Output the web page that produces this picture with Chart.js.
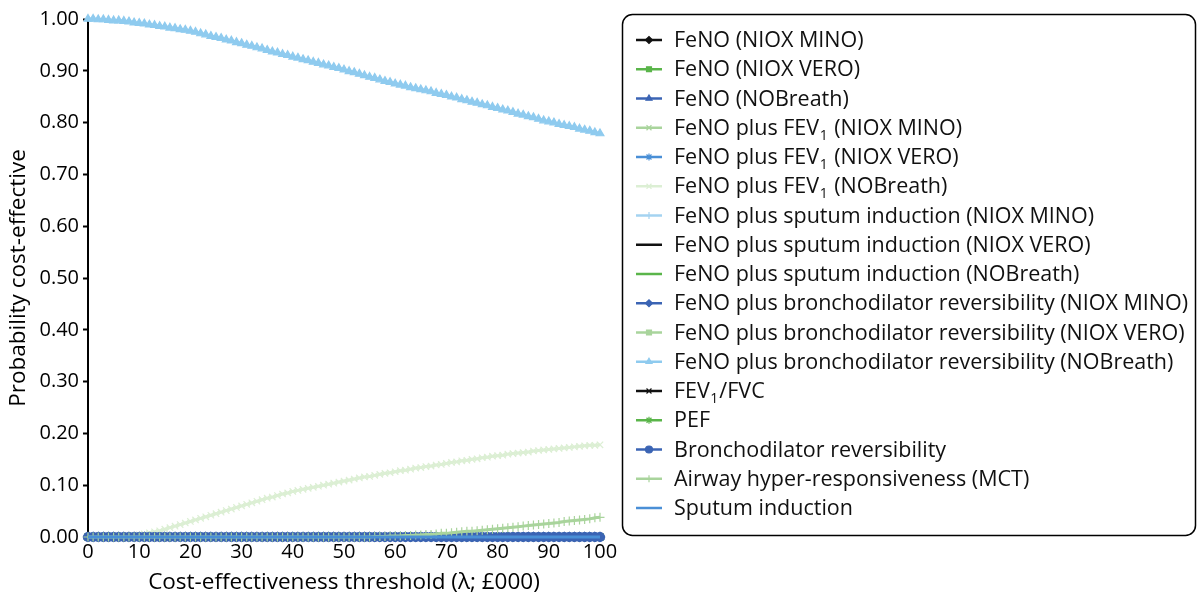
<!DOCTYPE html>
<html lang="en">
<head>
    <meta charset="UTF-8">
    <title>Probability cost-effective</title>
    <script src="https://cdn.jsdelivr.net/npm/chart.js"></script>
    <style>
        html, body { margin: 0; padding: 0; background: #fff; }
        #wrap { width: 1198px; height: 596px; }
    </style>
</head>
<body>
<div id="wrap"><canvas id="ceacChart" width="1198" height="596"></canvas></div>
<script>
// threshold, £000
const lambdas = [
    0, 1, 2, 3, 4, 5, 6, 7, 8, 9,
    10, 11, 12, 13, 14, 15, 16, 17, 18, 19,
    20, 21, 22, 23, 24, 25, 26, 27, 28, 29,
    30, 31, 32, 33, 34, 35, 36, 37, 38, 39,
    40, 41, 42, 43, 44, 45, 46, 47, 48, 49,
    50, 51, 52, 53, 54, 55, 56, 57, 58, 59,
    60, 61, 62, 63, 64, 65, 66, 67, 68, 69,
    70, 71, 72, 73, 74, 75, 76, 77, 78, 79,
    80, 81, 82, 83, 84, 85, 86, 87, 88, 89,
    90, 91, 92, 93, 94, 95, 96, 97, 98, 99,
    100
];

const xTicks = [0, 10, 20, 30, 40, 50, 60, 70, 80, 90, 100];
const yTicks = [0, 0.1, 0.2, 0.3, 0.4, 0.5, 0.6, 0.7, 0.8, 0.9, 1.0];

// strategies that never come out cost-effective
const zeroLine = [
    0, 0, 0, 0, 0, 0, 0, 0, 0, 0,
    0, 0, 0, 0, 0, 0, 0, 0, 0, 0,
    0, 0, 0, 0, 0, 0, 0, 0, 0, 0,
    0, 0, 0, 0, 0, 0, 0, 0, 0, 0,
    0, 0, 0, 0, 0, 0, 0, 0, 0, 0,
    0, 0, 0, 0, 0, 0, 0, 0, 0, 0,
    0, 0, 0, 0, 0, 0, 0, 0, 0, 0,
    0, 0, 0, 0, 0, 0, 0, 0, 0, 0,
    0, 0, 0, 0, 0, 0, 0, 0, 0, 0,
    0, 0, 0, 0, 0, 0, 0, 0, 0, 0,
    0
];

// FeNO plus bronchodilator reversibility (NOBreath)
const bdrNobreath = [
    1.000, 1.000, 0.999, 0.999, 0.998, 0.997, 0.997, 0.996, 0.995, 0.993,
    0.992, 0.991, 0.989, 0.988, 0.986, 0.985, 0.983, 0.982, 0.980, 0.979,
    0.977, 0.975, 0.972, 0.970, 0.967, 0.965, 0.963, 0.960, 0.958, 0.955,
    0.953, 0.950, 0.948, 0.945, 0.943, 0.940, 0.937, 0.935, 0.932, 0.930,
    0.927, 0.925, 0.922, 0.920, 0.917, 0.915, 0.912, 0.910, 0.907, 0.905,
    0.902, 0.899, 0.897, 0.894, 0.891, 0.888, 0.886, 0.883, 0.880, 0.878,
    0.875, 0.873, 0.871, 0.868, 0.866, 0.864, 0.862, 0.860, 0.857, 0.855,
    0.853, 0.850, 0.848, 0.845, 0.843, 0.840, 0.838, 0.835, 0.833, 0.830,
    0.828, 0.825, 0.823, 0.820, 0.817, 0.815, 0.812, 0.810, 0.807, 0.804,
    0.802, 0.800, 0.797, 0.795, 0.793, 0.791, 0.788, 0.786, 0.784, 0.781,
    0.779
];

// FeNO plus FEV1 (NOBreath)
const fev1Nobreath = [
    0.000, 0.000, 0.000, 0.000, 0.000, 0.000, 0.001, 0.001, 0.002, 0.003,
    0.004, 0.006, 0.008, 0.010, 0.012, 0.015, 0.018, 0.021, 0.024, 0.027,
    0.030, 0.033, 0.036, 0.039, 0.042, 0.045, 0.048, 0.051, 0.054, 0.057,
    0.060, 0.063, 0.066, 0.069, 0.072, 0.075, 0.077, 0.080, 0.083, 0.085,
    0.088, 0.090, 0.092, 0.094, 0.096, 0.098, 0.100, 0.102, 0.104, 0.106,
    0.108, 0.110, 0.112, 0.114, 0.116, 0.117, 0.119, 0.121, 0.123, 0.124,
    0.126, 0.128, 0.129, 0.131, 0.133, 0.134, 0.136, 0.137, 0.139, 0.140,
    0.142, 0.144, 0.145, 0.147, 0.148, 0.150, 0.151, 0.153, 0.154, 0.156,
    0.157, 0.158, 0.160, 0.161, 0.162, 0.163, 0.164, 0.166, 0.167, 0.168,
    0.169, 0.170, 0.171, 0.172, 0.173, 0.174, 0.175, 0.176, 0.177, 0.177,
    0.178
];

// Airway hyper-responsiveness (MCT)
const mct = [
    0.000, 0.000, 0.000, 0.000, 0.000, 0.000, 0.000, 0.000, 0.000, 0.000,
    0.000, 0.000, 0.000, 0.000, 0.000, 0.000, 0.000, 0.000, 0.000, 0.000,
    0.000, 0.000, 0.000, 0.000, 0.000, 0.000, 0.000, 0.000, 0.000, 0.000,
    0.000, 0.000, 0.000, 0.000, 0.000, 0.000, 0.000, 0.000, 0.000, 0.000,
    0.000, 0.000, 0.000, 0.000, 0.000, 0.000, 0.000, 0.000, 0.000, 0.000,
    0.000, 0.000, 0.000, 0.000, 0.000, 0.000, 0.001, 0.001, 0.001, 0.002,
    0.002, 0.002, 0.003, 0.003, 0.004, 0.004, 0.005, 0.005, 0.006, 0.007,
    0.007, 0.008, 0.009, 0.010, 0.011, 0.011, 0.012, 0.013, 0.014, 0.015,
    0.016, 0.017, 0.018, 0.019, 0.020, 0.021, 0.022, 0.023, 0.024, 0.025,
    0.026, 0.027, 0.028, 0.030, 0.031, 0.032, 0.033, 0.034, 0.035, 0.037,
    0.038
];

const seriesNames = [
    'FeNO (NIOX MINO)',
    'FeNO (NIOX VERO)',
    'FeNO (NOBreath)',
    'FeNO plus FEV_1 (NIOX MINO)',
    'FeNO plus FEV_1 (NIOX VERO)',
    'FeNO plus FEV_1 (NOBreath)',
    'FeNO plus sputum induction (NIOX MINO)',
    'FeNO plus sputum induction (NIOX VERO)',
    'FeNO plus sputum induction (NOBreath)',
    'FeNO plus bronchodilator reversibility (NIOX MINO)',
    'FeNO plus bronchodilator reversibility (NIOX VERO)',
    'FeNO plus bronchodilator reversibility (NOBreath)',
    'FEV_1/FVC',
    'PEF',
    'Bronchodilator reversibility',
    'Airway hyper-responsiveness (MCT)',
    'Sputum induction'
];

const seriesValues = [
    zeroLine, zeroLine, zeroLine,
    zeroLine, zeroLine, fev1Nobreath,
    zeroLine, zeroLine, zeroLine,
    zeroLine, zeroLine, bdrNobreath,
    zeroLine, zeroLine, zeroLine,
    mct, zeroLine
];

const seriesColors = [
    '#111111', '#5ab54a', '#3b64b4',
    '#a9d49c', '#4a8fd6', '#dcefd4',
    '#a4d3f1', '#111111', '#5ab54a',
    '#3b64b4', '#a9d49c', '#8fcbef',
    '#111111', '#5ab54a', '#3b64b4',
    '#a9d49c', '#4a8fd6'
];

const seriesMarkers = [
    'rectRot', 'rect', 'triangle',
    'crossRot', 'star', 'crossRot',
    'cross', false, false,
    'rectRot', 'rect', 'triangle',
    'crossRot', 'star', 'circle',
    'cross', false
];

const FONT = 'Open Sans';

function drawLabel(ctx, text, x, y) {
    const parts = text.split('_1');
    ctx.textBaseline = 'middle';
    ctx.textAlign = 'left';
    let cx = x;
    parts.forEach((p, i) => {
        ctx.font = '21.5px "' + FONT + '"';
        ctx.fillText(p, cx, y);
        cx += ctx.measureText(p).width;
        if (i < parts.length - 1) {
            ctx.font = '14px "' + FONT + '"';
            ctx.fillText('1', cx + 0.5, y + 7);
            cx += ctx.measureText('1').width + 1.5;
        }
    });
}

const boxLegend = {
    id: 'boxLegend',
    afterDraw(chart) {
        const ctx = chart.ctx;
        ctx.save();
        ctx.strokeStyle = '#000';
        ctx.lineWidth = 1.5;
        ctx.beginPath();
        ctx.roundRect(622.5, 14.5, 573, 521, 10);
        ctx.stroke();

        seriesNames.forEach((name, i) => {
            const y = 40 + i * 29.25;
            ctx.strokeStyle = seriesColors[i];
            ctx.fillStyle = seriesColors[i];
            ctx.lineWidth = 2.5;
            ctx.beginPath();
            ctx.moveTo(636, y);
            ctx.lineTo(662, y);
            ctx.stroke();
            if (seriesMarkers[i]) {
                ctx.lineWidth = 1.2;
                Chart.helpers.drawPoint(ctx, {
                    pointStyle: seriesMarkers[i], radius: 3.5, rotation: 0, borderWidth: 1.2
                }, 649, y);
            }
            ctx.fillStyle = '#111';
            drawLabel(ctx, name, 674, y + 1);
        });
        ctx.restore();
    }
};

const datasets = seriesNames.map((name, i) => ({
    label: name.replace('_1', '1'),
    data: lambdas.map((l, j) => ({ x: l, y: seriesValues[i][j] })),
    borderColor: seriesColors[i],
    backgroundColor: seriesColors[i],
    borderWidth: 3,
    pointStyle: seriesMarkers[i] || 'circle',
    pointRadius: seriesMarkers[i] ? 4.5 : 0,
    pointBorderWidth: 1.2,
    pointHoverRadius: 0,
    tension: 0,
    clip: false,
    order: -i
}));

const ctx = document.getElementById('ceacChart').getContext('2d');
const chart = new Chart(ctx, {
    type: 'line',
    data: { datasets: datasets },
    options: {
        responsive: false,
        animation: false,
        events: [],
        layout: { padding: { top: 19, right: 598, left: 0, bottom: 0 } },
        plugins: {
            legend: { display: false },
            tooltip: { enabled: false }
        },
        scales: {
            x: {
                type: 'linear',
                min: 0,
                max: 100,
                afterBuildTicks: axis => {
                    axis.ticks = xTicks.map(v => ({ value: v }));
                },
                afterFit: axis => { axis.height = 59; },
                grid: { display: false, drawTicks: false },
                border: { display: true, color: '#000', width: 2 },
                ticks: {
                    color: '#000',
                    padding: 3,
                    maxRotation: 0,
                    font: { family: FONT, size: 20 }
                },
                title: {
                    display: true,
                    text: 'Cost-effectiveness threshold (λ; £000)',
                    color: '#000',
                    padding: { top: 0, bottom: 0 },
                    font: { family: FONT, size: 22.5 }
                }
            },
            y: {
                min: 0,
                max: 1,
                afterBuildTicks: axis => {
                    axis.ticks = yTicks.map(v => ({ value: v }));
                },
                afterFit: axis => { axis.width = 88; },
                grid: {
                    drawOnChartArea: false,
                    drawTicks: true,
                    tickLength: 5,
                    tickWidth: 2,
                    tickColor: '#000'
                },
                border: { display: true, color: '#000', width: 2 },
                ticks: {
                    color: '#000',
                    padding: 4,
                    font: { family: FONT, size: 20 },
                    callback: v => v.toFixed(2)
                },
                title: {
                    display: true,
                    text: 'Probability cost-effective',
                    color: '#000',
                    padding: { top: 5, bottom: 0 },
                    font: { family: FONT, size: 22.5 }
                }
            }
        }
    },
    plugins: [boxLegend]
});
</script>
</body>
</html>
